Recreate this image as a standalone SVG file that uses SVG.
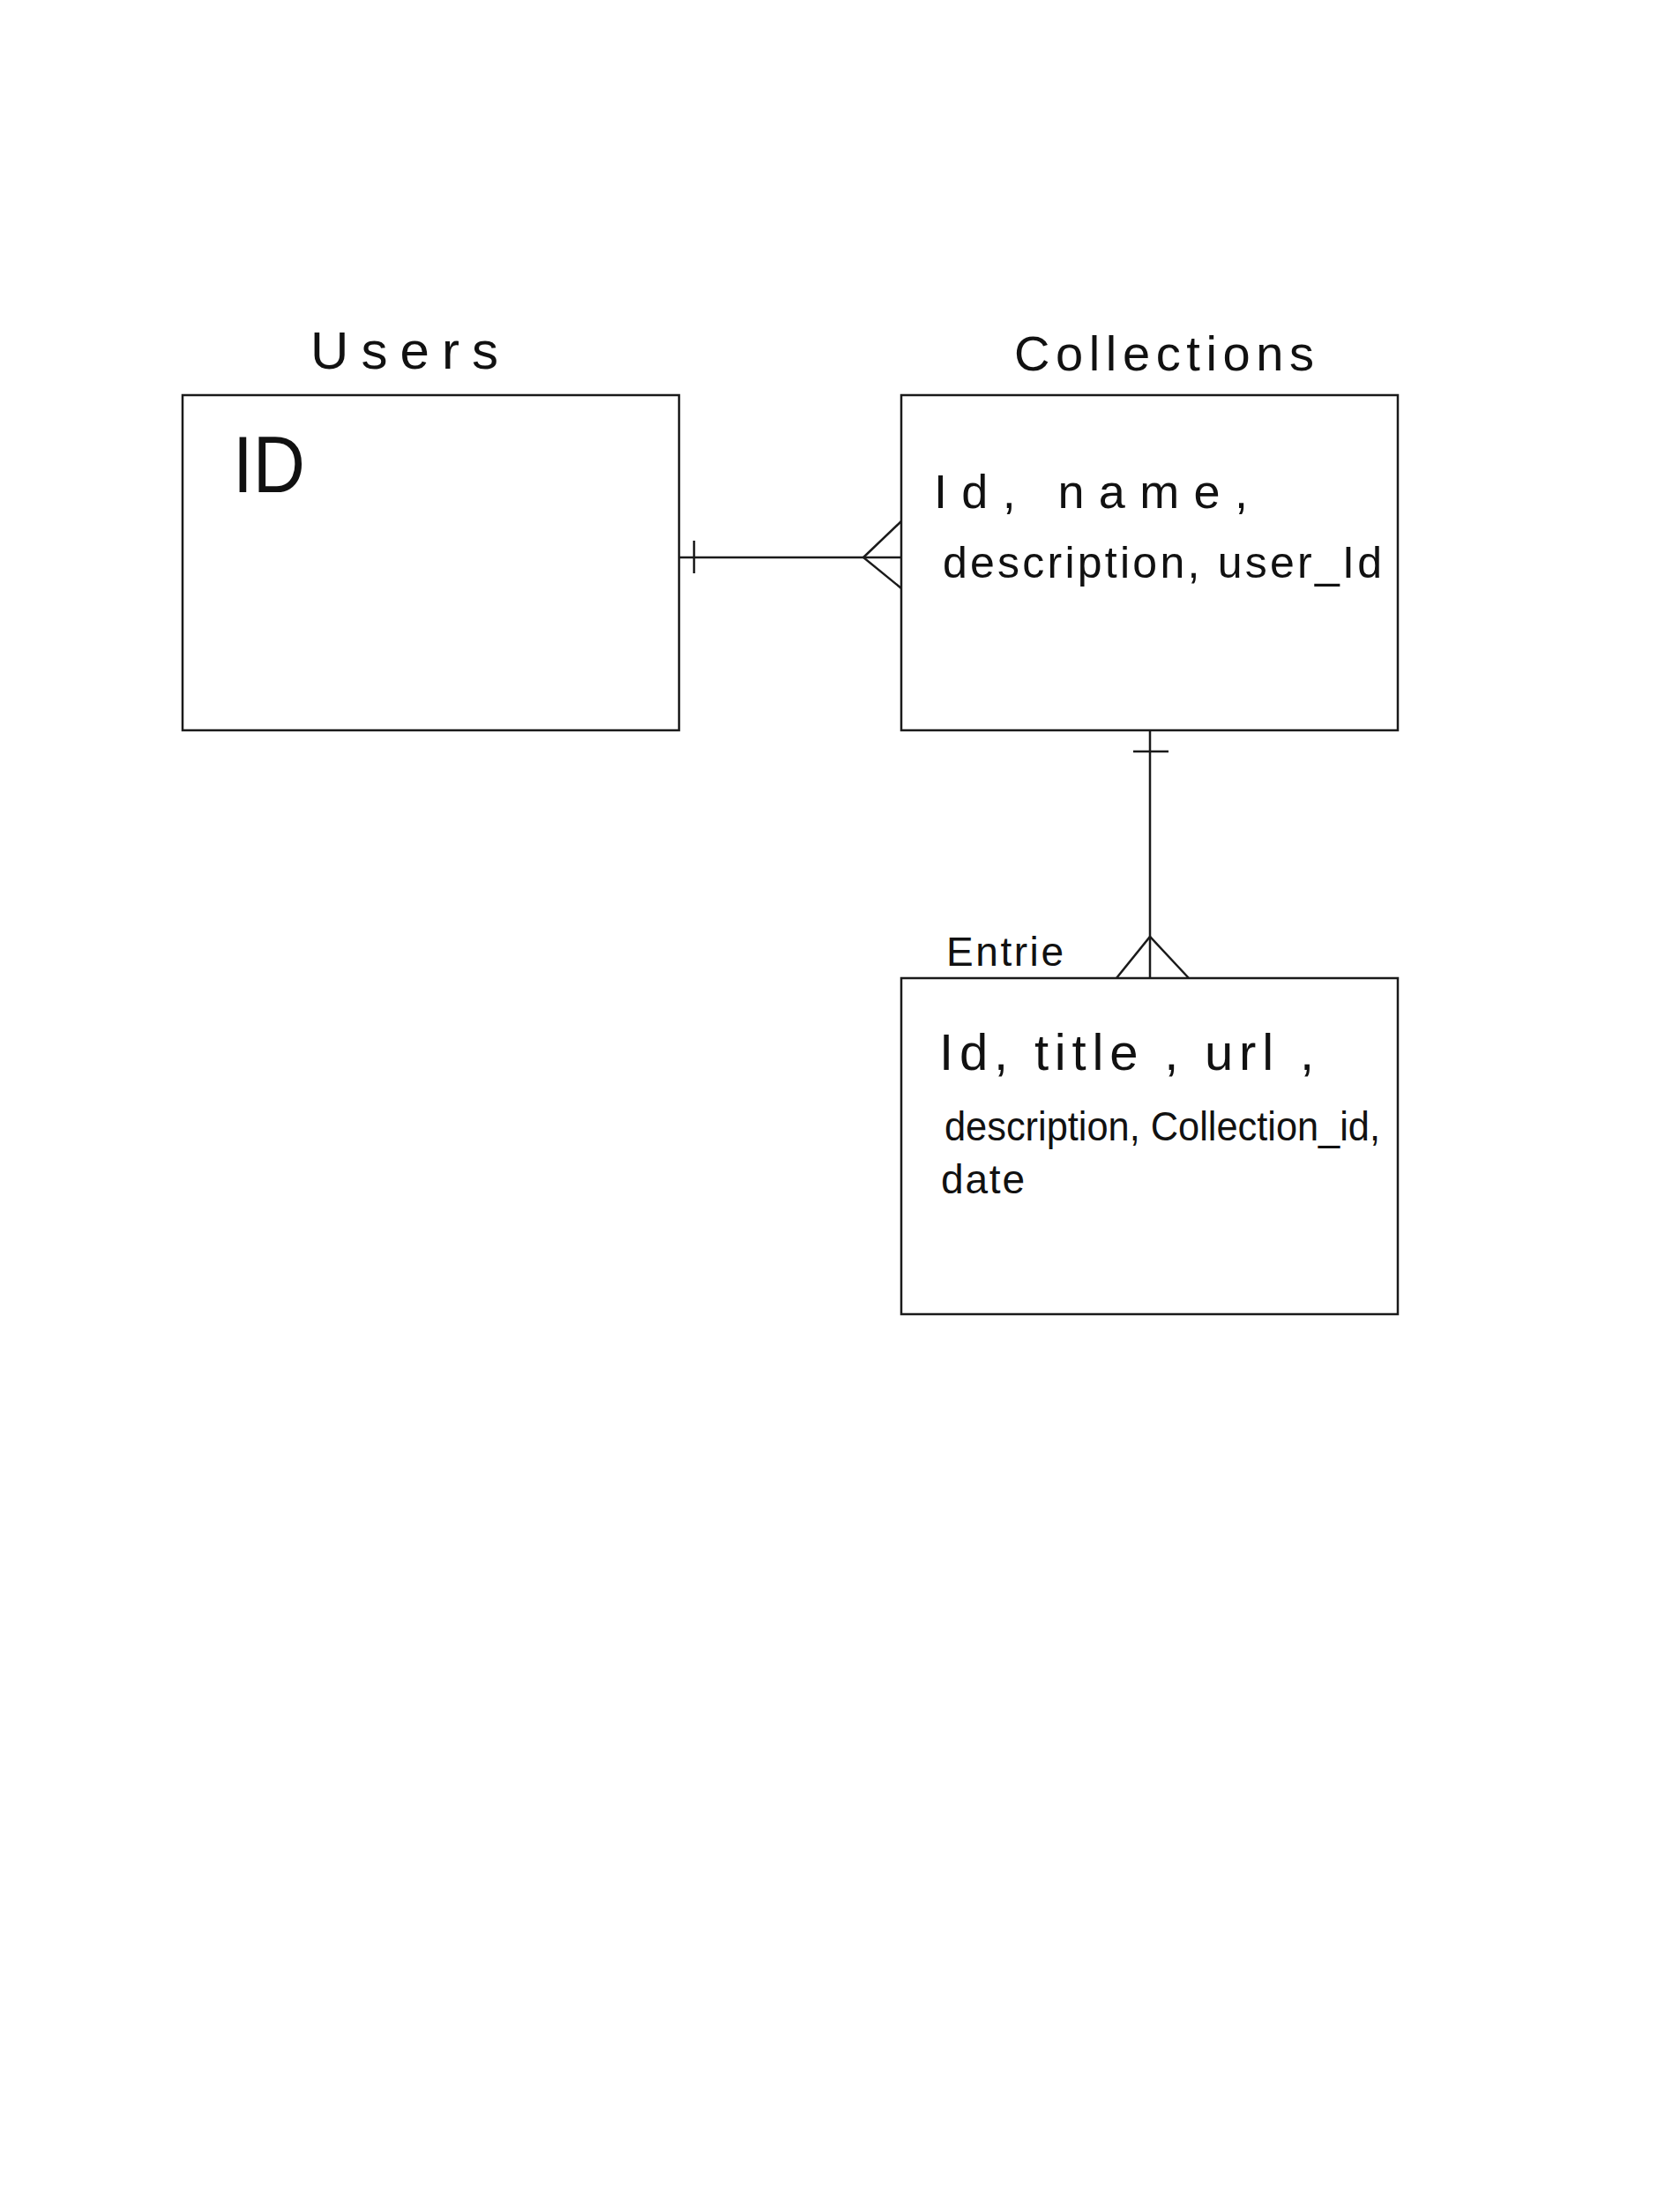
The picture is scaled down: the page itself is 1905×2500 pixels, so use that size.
<svg xmlns="http://www.w3.org/2000/svg" width="1905" height="2500" viewBox="0 0 1905 2500">
<style>
.box{fill:#fff;stroke:#1a1a1a;stroke-width:2.5}
.ln{fill:none;stroke:#1a1a1a;stroke-width:2.5}
.t{font-family:"Liberation Sans","DejaVu Sans",sans-serif;fill:#111;font-weight:normal}
.title{font-size:56px}
.attr{font-size:50px}
</style>
<rect width="1905" height="2500" fill="#fff"/>
<g id="connectors">
<g id="users-collections">
<line class="ln" x1="770" y1="632" x2="1022" y2="632"/>
<line class="ln" x1="787" y1="613" x2="787" y2="650"/>
<polyline class="ln" points="1022,591 979,632 1022,667"/>
</g>
<g id="collections-entries">
<line class="ln" x1="1304" y1="828" x2="1304" y2="1109"/>
<line class="ln" x1="1285" y1="852" x2="1325" y2="852"/>
<polyline class="ln" points="1266,1109 1304,1062 1348,1109"/>
</g>
</g>
<g id="users">
<text class="t" x="352" y="418" font-size="60" textLength="213" lengthAdjust="spacing">Users</text>
<rect class="box" x="207" y="448" width="563" height="380"/>
<text class="t" x="264" y="558" font-size="90" textLength="82" lengthAdjust="spacingAndGlyphs">ID</text>
</g>
<g id="collections">
<text class="t title" x="1150" y="420" textLength="340" lengthAdjust="spacing">Collections</text>
<rect class="box" x="1022" y="448" width="563" height="380"/>
<text class="t" x="1059" y="576" font-size="54" textLength="356" lengthAdjust="spacing">Id, name,</text>
<text class="t attr" x="1069" y="655" textLength="498" lengthAdjust="spacing">description, user_Id</text>
</g>
<g id="entries">
<text class="t" x="1073" y="1095" font-size="46" textLength="133" lengthAdjust="spacing">Entrie</text>
<rect class="box" x="1022" y="1109" width="563" height="381"/>
<text class="t" x="1065" y="1213" font-size="58" textLength="425" lengthAdjust="spacing">Id, title , url ,</text>
<text class="t" x="1071" y="1293" font-size="46" textLength="494" lengthAdjust="spacingAndGlyphs">description, Collection_id,</text>
<text class="t" x="1067" y="1353" font-size="46" textLength="95" lengthAdjust="spacing">date</text>
</g>
</svg>
